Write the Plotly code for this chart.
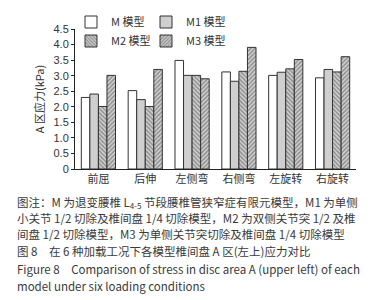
import plotly.graph_objects as go

categories = ["前屈", "后伸", "左侧弯", "右侧弯", "左旋转", "右旋转"]
series_names = ["M 模型", "M1 模型", "M2 模型", "M3 模型"]
m_vals = [2.30, 2.52, 3.49, 3.12, 3.01, 2.93]
m1_vals = [2.41, 2.23, 3.01, 2.82, 3.11, 3.20]
m2_vals = [2.01, 2.01, 3.01, 3.14, 3.22, 3.12]
m3_vals = [3.01, 3.20, 2.90, 3.91, 3.52, 3.61]
y_tickvals = [0, 0.5, 1.0, 1.5, 2.0, 2.5, 3.0, 3.5, 4.0, 4.5]
y_ticktext = ["0", "0.5", "1.0", "1.5", "2.0", "2.5", "3.0", "3.5", "4.0", "4.5"]
y_title = "A 区应力(kPa)"
caption_lines = [
    "图注：M 为退变腰椎 L<sub>4-5</sub> 节段腰椎管狭窄症有限元模型，M1 为单侧",
    "小关节 1/2 切除及椎间盘 1/4 切除模型，M2 为双侧关节突 1/2 及椎",
    "间盘 1/2 切除模型，M3 为单侧关节突切除及椎间盘 1/4 切除模型",
    "图 8　在 6 种加载工况下各模型椎间盘 A 区(左上)应力对比",
    "Figure 8　Comparison of stress in disc area A (upper left) of each",
    "model under six loading conditions",
]

FONT = "Noto Sans CJK SC, Liberation Sans, Arial, sans-serif"
line_col = "#333333"

PLOT_TOP = 21
PLOT_H = 140
PLOT_L = 67
PLOT_W = 281

fig = go.Figure()
fig.add_trace(go.Bar(name=series_names[0], x=categories, y=m_vals,
                     marker=dict(color="white", line=dict(color=line_col, width=1)),
                     legend="legend"))
fig.add_trace(go.Bar(name=series_names[1], x=categories, y=m1_vals,
                     marker=dict(color="#cfcfcf", line=dict(color=line_col, width=1)),
                     legend="legend2"))
fig.add_trace(go.Bar(name=series_names[2], x=categories, y=m2_vals,
                     marker=dict(color="#c8c8c8", line=dict(color=line_col, width=1),
                                 pattern=dict(shape="\\", fgcolor="#444444", bgcolor="#d0d0d0",
                                              size=3, solidity=0.45)),
                     legend="legend3"))
fig.add_trace(go.Bar(name=series_names[3], x=categories, y=m3_vals,
                     marker=dict(color="#c8c8c8", line=dict(color=line_col, width=1),
                                 pattern=dict(shape="/", fgcolor="#444444", bgcolor="#d0d0d0",
                                              size=3, solidity=0.45)),
                     legend="legend4"))

annotations = []
line_y = [194, 210, 226, 243, 261, 278]
for txt, yy in zip(caption_lines, line_y):
    annotations.append(dict(
        text=txt, xref="paper", yref="paper",
        x=(7 - PLOT_L) / PLOT_W, y=1 - (yy - PLOT_TOP) / PLOT_H,
        xanchor="left", yanchor="middle",
        showarrow=False, font=dict(family=FONT, size=11.5, color="#3a3a3a"),
    ))


def leg(xpx, ypx):
    return dict(orientation="h", x=(xpx - PLOT_L) / PLOT_W, y=1 - (ypx - PLOT_TOP) / PLOT_H,
                xanchor="left", yanchor="middle",
                font=dict(family=FONT, size=11, color="#333333"),
                bgcolor="rgba(0,0,0,0)")


fig.update_layout(
    width=389, height=300,
    margin=dict(l=PLOT_L, r=389 - PLOT_L - PLOT_W, t=PLOT_TOP, b=300 - PLOT_TOP - PLOT_H,
                pad=0, autoexpand=False),
    paper_bgcolor="white", plot_bgcolor="white",
    barmode="group", bargap=0.27, bargroupgap=0,
    font=dict(family=FONT, size=11, color="#333333"),
    showlegend=True,
    legend=leg(63, 14),
    legend2=leg(138, 14),
    legend3=leg(63, 33),
    legend4=leg(138, 33),
    annotations=annotations,
    xaxis=dict(showline=True, linecolor="#222222", linewidth=1, ticks="",
               tickfont=dict(family=FONT, size=11, color="#333333"),
               showgrid=False, zeroline=False),
    yaxis=dict(range=[0, 4.5], tickvals=y_tickvals, ticktext=y_ticktext,
               showline=True, linecolor="#222222", linewidth=1,
               ticks="outside", ticklen=3, tickcolor="#222222",
               tickfont=dict(family="Liberation Sans, Arial, sans-serif", size=11, color="#333333"),
               showgrid=False, zeroline=False,
               title=dict(text=y_title, standoff=6,
                          font=dict(family=FONT, size=11, color="#333333"))),
)

fig.write_html("out.html")
